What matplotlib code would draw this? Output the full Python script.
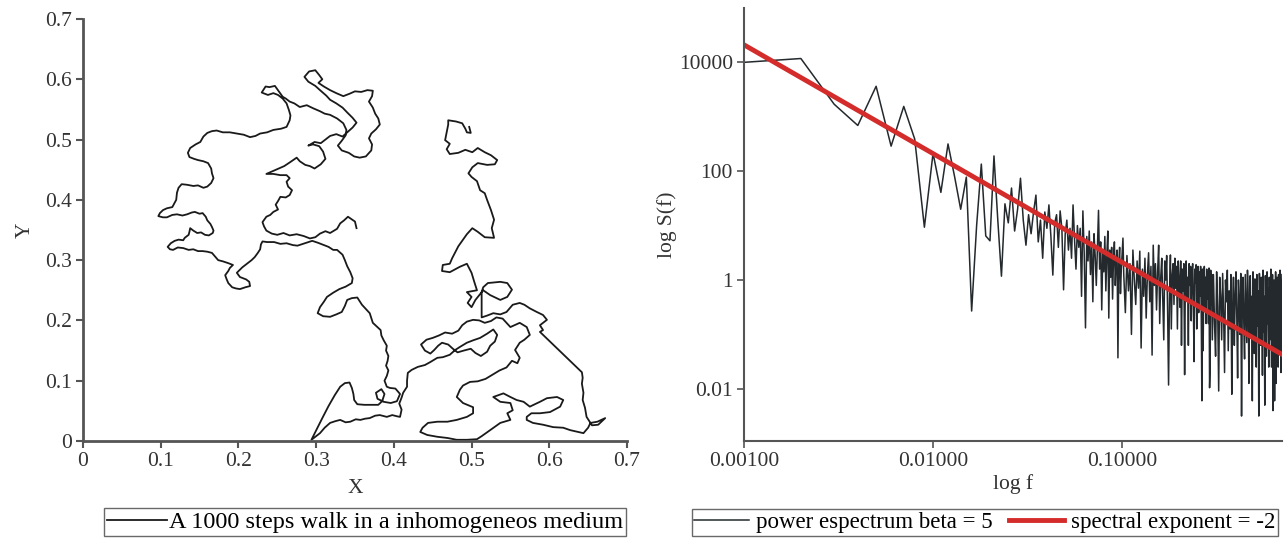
import numpy as np
import matplotlib
matplotlib.use("Agg")
import matplotlib.pyplot as plt

plt.rcParams['font.family'] = ['Liberation Serif', 'DejaVu Serif']

# ---------------- data: random walk (traced) ----------------
walk_pts = [
    (0.352,0.353),(0.350,0.364),(0.341,0.372),(0.336,0.366),(0.331,0.361),(0.327,0.352),(0.318,0.345),(0.312,0.348),
    (0.305,0.344),(0.299,0.338),(0.292,0.336),(0.284,0.340),(0.275,0.343),(0.266,0.341),(0.258,0.345),(0.250,0.342),
    (0.243,0.344),(0.236,0.349),(0.233,0.356),(0.231,0.363),(0.236,0.372),(0.241,0.375),(0.245,0.380),(0.251,0.384),
    (0.248,0.392),(0.251,0.398),(0.254,0.405),(0.261,0.404),(0.266,0.408),(0.269,0.416),(0.264,0.422),(0.262,0.430),
    (0.266,0.436),(0.262,0.441),(0.254,0.441),(0.245,0.443),(0.236,0.443),(0.243,0.447),(0.252,0.452),(0.259,0.456),
    (0.266,0.462),(0.275,0.470),(0.279,0.464),(0.286,0.458),(0.292,0.456),(0.298,0.452),(0.306,0.459),(0.312,0.468),
    (0.309,0.480),(0.304,0.489),(0.296,0.492),(0.290,0.490),(0.298,0.496),(0.306,0.494),(0.312,0.500),(0.318,0.506),
    (0.326,0.509),(0.334,0.505),(0.340,0.512),(0.347,0.520),(0.352,0.528),(0.347,0.536),(0.340,0.545),(0.334,0.553),
    (0.326,0.560),(0.318,0.566),(0.313,0.573),(0.305,0.582),(0.299,0.589),(0.290,0.596),(0.285,0.604),(0.291,0.613),
    (0.299,0.615),(0.304,0.607),(0.308,0.600),(0.303,0.594),(0.310,0.588),(0.318,0.582),(0.326,0.577),(0.335,0.572),
    (0.343,0.576),(0.350,0.580),(0.358,0.579),(0.366,0.582),(0.373,0.581),(0.372,0.572),(0.368,0.563),(0.373,0.553),
    (0.376,0.543),(0.380,0.535),(0.382,0.525),(0.377,0.517),(0.371,0.510),(0.368,0.502),(0.372,0.492),(0.371,0.482),
    (0.364,0.472),(0.356,0.470),(0.349,0.472),(0.342,0.478),(0.333,0.482),(0.328,0.490),(0.333,0.498),(0.338,0.507),
    (0.339,0.516),(0.335,0.527),(0.327,0.535),(0.318,0.541),(0.311,0.543),(0.305,0.547),(0.296,0.552),(0.288,0.557),
    (0.279,0.554),(0.272,0.560),(0.266,0.563),(0.261,0.568),(0.257,0.571),(0.252,0.580),(0.247,0.589),(0.240,0.587),
    (0.235,0.588),(0.230,0.578),(0.238,0.574),(0.245,0.577),(0.251,0.574),(0.257,0.568),(0.262,0.560),(0.265,0.549),
    (0.267,0.540),(0.266,0.532),(0.262,0.521),(0.255,0.518),(0.245,0.516),(0.237,0.512),(0.228,0.510),(0.222,0.506),
    (0.215,0.504),(0.207,0.508),(0.198,0.510),(0.189,0.512),(0.180,0.512),(0.172,0.515),(0.166,0.514),(0.160,0.511),
    (0.155,0.505),(0.151,0.496),(0.145,0.492),(0.138,0.486),(0.135,0.478),(0.137,0.471),(0.143,0.468),(0.148,0.466),
    (0.155,0.464),(0.161,0.461),(0.165,0.452),(0.166,0.444),(0.168,0.436),(0.165,0.428),(0.160,0.422),(0.155,0.420),
    (0.148,0.424),(0.142,0.423),(0.134,0.425),(0.127,0.426),(0.123,0.420),(0.121,0.412),(0.120,0.400),(0.117,0.393),
    (0.115,0.388),(0.108,0.386),(0.103,0.383),(0.099,0.378),(0.097,0.373),(0.103,0.371),(0.108,0.371),(0.115,0.375),
    (0.121,0.376),(0.128,0.374),(0.134,0.376),(0.140,0.379),(0.144,0.380),(0.150,0.377),(0.154,0.378),(0.158,0.372),
    (0.160,0.366),(0.164,0.360),(0.166,0.355),(0.168,0.349),(0.167,0.345),(0.162,0.341),(0.157,0.342),(0.152,0.346),
    (0.147,0.345),(0.142,0.349),(0.138,0.353),(0.137,0.347),(0.136,0.342),(0.131,0.337),(0.129,0.333),(0.123,0.334),
    (0.118,0.332),(0.113,0.328),(0.109,0.322),(0.112,0.318),(0.116,0.317),(0.122,0.321),(0.129,0.320),(0.136,0.317),
    (0.142,0.318),(0.148,0.315),(0.154,0.315),(0.160,0.314),(0.166,0.312),(0.170,0.306),(0.174,0.300),(0.180,0.298),
    (0.187,0.295),(0.193,0.292),(0.189,0.287),(0.187,0.282),(0.183,0.275),(0.185,0.268),(0.187,0.262),(0.192,0.255),
    (0.197,0.253),(0.202,0.252),(0.209,0.255),(0.215,0.257),(0.214,0.264),(0.210,0.268),(0.202,0.272),(0.198,0.279),
    (0.202,0.284),(0.205,0.288),(0.212,0.295),(0.217,0.300),(0.221,0.305),(0.225,0.312),(0.228,0.318),(0.229,0.326),
    (0.231,0.331),(0.237,0.330),(0.246,0.330),(0.254,0.327),(0.262,0.328),(0.270,0.325),(0.276,0.324),(0.283,0.327),
    (0.290,0.330),(0.295,0.332),(0.302,0.329),(0.308,0.326),(0.316,0.322),(0.322,0.317),(0.327,0.317),(0.334,0.309),
    (0.337,0.300),(0.340,0.290),(0.344,0.280),(0.347,0.270),(0.346,0.262),(0.338,0.256),(0.330,0.252),(0.322,0.246),
    (0.314,0.239),(0.310,0.231),(0.305,0.222),(0.302,0.212),(0.309,0.207),(0.318,0.206),(0.326,0.210),(0.333,0.214),
    (0.337,0.224),(0.340,0.234),(0.346,0.237),(0.353,0.238),(0.356,0.232),(0.359,0.226),(0.364,0.219),(0.369,0.212),
    (0.371,0.204),(0.373,0.196),(0.378,0.190),(0.383,0.184),(0.384,0.175),(0.387,0.167),(0.391,0.158),(0.390,0.150),
    (0.393,0.141),(0.392,0.133),(0.390,0.125),(0.393,0.117),(0.391,0.108),(0.388,0.100),(0.391,0.090),(0.395,0.088),
    (0.402,0.087),(0.408,0.078),(0.404,0.066),(0.396,0.063),(0.387,0.065),(0.379,0.070),(0.377,0.080),(0.384,0.086),
    (0.388,0.078),(0.385,0.066),(0.380,0.060),(0.371,0.060),(0.362,0.060),(0.353,0.061),(0.349,0.068),(0.348,0.078),
    (0.346,0.088),(0.343,0.097),(0.337,0.096),(0.331,0.090),(0.324,0.076),(0.316,0.058),(0.308,0.038),(0.301,0.020),
    (0.294,0.002),(0.300,0.008),(0.305,0.013),(0.311,0.022),(0.318,0.030),(0.325,0.033),(0.331,0.035),(0.338,0.031),
    (0.344,0.032),(0.351,0.036),(0.357,0.035),(0.363,0.037),(0.369,0.038),(0.376,0.042),(0.382,0.043),(0.391,0.040),
    (0.398,0.043),(0.404,0.041),(0.408,0.040),(0.410,0.052),(0.407,0.062),(0.410,0.072),(0.412,0.080),(0.417,0.090),
    (0.417,0.100),(0.418,0.113),(0.423,0.118),(0.431,0.123),(0.440,0.126),(0.447,0.131),(0.456,0.138),(0.463,0.139),
    (0.472,0.143),(0.479,0.151),(0.485,0.156),(0.494,0.163),(0.502,0.167),(0.511,0.171),(0.520,0.178),(0.528,0.185),
    (0.533,0.176),(0.530,0.165),(0.524,0.158),(0.520,0.148),(0.512,0.141),(0.505,0.146),(0.499,0.153),(0.490,0.150),
    (0.482,0.147),(0.476,0.153),(0.470,0.160),(0.462,0.163),(0.457,0.158),(0.452,0.151),(0.447,0.145),(0.440,0.150),
    (0.435,0.160),(0.442,0.168),(0.450,0.171),(0.458,0.175),(0.466,0.180),(0.475,0.178),(0.483,0.183),(0.488,0.192),
    (0.494,0.198),(0.502,0.201),(0.510,0.200),(0.517,0.196),(0.525,0.199),(0.532,0.205),(0.540,0.203),(0.545,0.196),
    (0.550,0.189),(0.562,0.196),(0.571,0.189),(0.575,0.176),(0.568,0.168),(0.562,0.163),(0.556,0.151),(0.562,0.138),
    (0.559,0.129),(0.552,0.133),(0.545,0.122),(0.536,0.117),(0.527,0.110),(0.518,0.103),(0.508,0.099),(0.498,0.098),
    (0.489,0.092),(0.485,0.085),(0.481,0.073),(0.489,0.063),(0.502,0.056),(0.502,0.046),(0.494,0.040),(0.481,0.035),
    (0.469,0.032),(0.456,0.032),(0.444,0.030),(0.437,0.022),(0.434,0.015),(0.443,0.010),(0.456,0.007),(0.469,0.005),
    (0.481,0.002),(0.494,0.002),(0.507,0.003),(0.513,0.008),(0.524,0.018),(0.537,0.030),(0.550,0.035),(0.546,0.046),
    (0.553,0.051),(0.550,0.063),(0.537,0.065),(0.528,0.073),(0.541,0.079),(0.550,0.073),(0.558,0.068),(0.567,0.065),
    (0.575,0.057),(0.588,0.065),(0.597,0.071),(0.610,0.073),(0.618,0.068),(0.614,0.057),(0.601,0.048),(0.588,0.046),
    (0.577,0.046),(0.571,0.040),(0.571,0.035),(0.579,0.030),(0.592,0.027),(0.605,0.023),(0.618,0.022),(0.627,0.018),
    (0.637,0.015),(0.644,0.013),(0.650,0.022),(0.653,0.030),(0.662,0.032),(0.672,0.038),(0.663,0.027),(0.655,0.026),
    (0.648,0.040),(0.646,0.055),(0.643,0.068),(0.644,0.080),(0.642,0.095),(0.643,0.105),(0.642,0.114),(0.588,0.181),
    (0.592,0.184),(0.588,0.192),(0.597,0.201),(0.592,0.209),(0.584,0.214),(0.575,0.220),(0.568,0.226),(0.562,0.229),
    (0.553,0.226),(0.545,0.214),(0.537,0.210),(0.528,0.212),(0.520,0.208),(0.513,0.205),(0.513,0.247),(0.515,0.255),
    (0.521,0.262),(0.537,0.264),(0.546,0.262),(0.552,0.251),(0.546,0.239),(0.537,0.234),(0.524,0.242),(0.515,0.250),
    (0.505,0.234),(0.500,0.222),(0.495,0.229),(0.500,0.239),(0.494,0.247),(0.507,0.250),(0.504,0.262),(0.500,0.279),
    (0.494,0.294),(0.485,0.289),(0.472,0.280),(0.462,0.282),(0.463,0.292),(0.472,0.294),(0.475,0.303),(0.479,0.313),
    (0.483,0.323),(0.488,0.332),(0.494,0.343),(0.501,0.353),(0.508,0.347),(0.517,0.338),(0.529,0.337),(0.526,0.353),
    (0.529,0.367),(0.525,0.383),(0.520,0.400),(0.517,0.411),(0.511,0.416),(0.507,0.431),(0.500,0.438),(0.496,0.444),
    (0.501,0.454),(0.508,0.461),(0.520,0.458),(0.530,0.459),(0.533,0.466),(0.525,0.474),(0.517,0.479),(0.508,0.486),
    (0.501,0.479),(0.492,0.483),(0.483,0.478),(0.472,0.476),(0.468,0.484),(0.472,0.493),(0.466,0.499),(0.468,0.512),
    (0.470,0.525),(0.470,0.532),(0.480,0.530),(0.488,0.527),(0.492,0.518),(0.494,0.512),(0.499,0.511),(0.497,0.521),
]
walk_x = [p[0] for p in walk_pts]
walk_y = [p[1] for p in walk_pts]

# ---------------- data: power spectrum (log10 S), f = k/1000 ----------------
spec_log_a = [  # k = 1 .. 101
    4.00, 4.07, 3.23, 2.84, 3.56, 2.46, 3.19, 2.59, 0.97, 2.33,
    1.61, 2.50, 1.90, 1.30, 1.89, -0.57, 1.00, 2.13, 0.81, 0.72,
    2.28, 1.10, 0.07, 1.40, 1.05, 1.69, 0.90, 1.30, 1.87, 1.10,
    0.64, 1.20, 0.85, 1.25, 1.56, 0.70, 1.10, 0.40, 1.25, 0.95,
    1.38, 0.80, 0.09, 1.05, 1.20, 0.60, 1.27, 0.95, -0.18, 0.85,
    1.10, 0.55, 0.95, 0.40, 1.38, 0.75, 0.20, 1.00, 0.60, 0.95,
    -0.30, 1.27, 0.50, -0.88, 0.80, 0.35, 0.90, 0.10, 0.70, -0.40,
    0.85, 0.45, -0.10, 0.60, 1.28, 0.20, 0.70, -0.55, 0.50, 0.15,
    0.80, -0.20, 0.45, 0.90, -0.70, 0.55, 0.05, 0.60, -0.35, 0.40,
    0.70, -0.10, 0.35, 0.55, -1.43, 0.30, 0.60, -0.25, 0.20, 0.50,
    0.77,
]
spec_log_b = [  # k = 102 .. 300, step 2
    0.10, -0.60, 0.45, -0.20, 0.30, -1.00, 0.55, 0.00, -0.45, 0.35,
    -0.15, 0.53, -1.25, 0.20, -0.30, 0.40, -0.70, 0.10, 0.50, -0.40,
    0.25, -1.38, 0.64, -0.10, 0.30, -0.55, 0.15, 0.64, -0.80, 0.05,
    0.40, -0.35, -1.10, 0.35, 0.00, 0.45, -0.60, -1.93, -0.25, 0.46,
    -0.90, 0.10, 0.30, -0.45, 0.40, -0.15, 0.25, -0.90, 0.35, 0.00,
    -0.50, 0.35, -1.20, 0.20, -0.20, 0.30, -1.74, 0.15, 0.35, -0.35,
    0.05, -1.20, 0.30, -0.10, 0.25, -0.75, 0.10, 0.30, -0.40, -1.50,
    0.20, -0.05, 0.28, -0.90, 0.00, 0.25, -0.60, 0.15, -0.30, 0.25,
    -0.60, -2.22, 0.20, -1.30, -0.20, 0.25, -0.50, 0.05, -0.80, 0.20,
    -0.35, 0.15, -0.80, 0.22, -1.98, -1.60, 0.18, -0.45, 0.10, -1.10,
]
spec_log_c = [  # k = 304 .. 700, step 4
    0.10, -0.80, -1.40, 0.15, -0.50, -2.04, 0.05, -0.30, -1.10, 0.12,
    -0.60, -1.70, 0.00, -0.40, 0.18, -1.30, -0.20, -0.90, 0.10, -2.10,
    -0.50, 0.05, -1.20, -0.30, 0.15, -0.70, -1.80, 0.00, -0.45, -1.00,
    0.12, -2.50, -0.35, 0.05, -0.80, -1.45, 0.10, -0.55, -1.15, 0.18,
    -0.25, -1.90, -0.60, 0.08, -1.00, -0.30, -2.22, 0.15, -0.70, -1.35,
    0.02, -0.50, -1.60, 0.10, -0.85, -0.20, -2.50, 0.12, -0.65, -1.20,
    0.05, -0.40, -1.75, 0.18, -0.95, -0.30, -2.30, 0.08, -0.60, -1.40,
    0.15, -0.80, -0.15, -1.60, 0.05, -1.10, -0.45, 0.20, -1.60, -0.70,
    0.10, -2.40, -0.35, 0.00, -2.22, -0.55, 0.15, -1.90, -0.90, 0.05,
    -0.40, -1.60, 0.10, -0.75, -1.30, 0.18, -0.50, -1.70, -0.20, 0.10,
]
spec_k = np.concatenate([np.arange(1, 102), np.arange(102, 301, 2), np.arange(304, 701, 4)])
spec_f = spec_k / 1000.0
spec_S = 10.0 ** np.array(spec_log_a + spec_log_b + spec_log_c)

fit_f = [0.001, 0.7]
fit_S = [2.1e4, 0.043]

walk_label = "A 1000 steps walk in a inhomogeneos medium"
spec_label = "power espectrum beta = 5"
fit_label = "spectral exponent = -2"

# ---------------- figure ----------------
fig = plt.figure(figsize=(12.84, 5.38), dpi=100)
FS = 15.5
spine_col = '#555555'
txt_col = '#333333'

ax1 = fig.add_axes([0.0646, 0.1803, 0.4237, 0.7844])
l1, = ax1.plot(walk_x, walk_y, color='#1a1a1a', lw=1.3)
ax1.set_xlim(0, 0.7)
ax1.set_ylim(0, 0.7)
ticks = [0, 0.1, 0.2, 0.3, 0.4, 0.5, 0.6, 0.7]
tlabels = ['0', '0.1', '0.2', '0.3', '0.4', '0.5', '0.6', '0.7']
ax1.set_xticks(ticks)
ax1.set_xticklabels(tlabels)
ax1.set_yticks(ticks)
ax1.set_yticklabels(tlabels)
for s in ['top', 'right']:
    ax1.spines[s].set_visible(False)
for s in ['left', 'bottom']:
    ax1.spines[s].set_color(spine_col)
    ax1.spines[s].set_linewidth(2)
ax1.tick_params(direction='out', length=5, width=1.5, color=spine_col, labelsize=FS, labelcolor=txt_col, pad=3)
ax1.set_xlabel('X', fontsize=FS, color=txt_col, labelpad=6)
ax1.set_ylabel('Y', fontsize=FS, color=txt_col, labelpad=7)
fig.legend([l1], [walk_label], loc='center', bbox_to_anchor=(0.284, 0.029),
           fontsize=17.5, frameon=True, fancybox=False, edgecolor='#444444',
           handlelength=2.5, handletextpad=0.05, borderpad=0.12, borderaxespad=0)

ax2 = fig.add_axes([0.5794, 0.1803, 0.419, 0.805])
l2, = ax2.plot(spec_f, spec_S, color='#23292d', lw=1.1)
l3, = ax2.plot(fit_f, fit_S, color='#d42b2b', lw=3.5)
ax2.set_xscale('log')
ax2.set_yscale('log')
ax2.set_xlim(0.001, 0.7)
ax2.set_ylim(1.1e-3, 1e5)
ax2.set_xticks([0.001, 0.01, 0.1])
ax2.set_xticklabels(['0.00100', '0.01000', '0.10000'])
ax2.set_yticks([1e-2, 1, 1e2, 1e4])
ax2.set_yticklabels(['0.01', '1', '100', '10000'])
ax2.minorticks_off()
for s in ['top', 'right']:
    ax2.spines[s].set_visible(False)
for s in ['left', 'bottom']:
    ax2.spines[s].set_color(spine_col)
    ax2.spines[s].set_linewidth(1.5)
ax2.tick_params(direction='out', length=5, width=1.2, color=spine_col, labelsize=FS, labelcolor=txt_col, pad=3)
ax2.set_xlabel('log f', fontsize=FS, color=txt_col, labelpad=2)
ax2.set_ylabel('log S(f)', fontsize=FS, color=txt_col, labelpad=1)
fig.legend([l2, l3], [spec_label, fit_label], loc='center', bbox_to_anchor=(0.767, 0.029),
           ncol=2, fontsize=16.5, frameon=True, fancybox=False, edgecolor='#444444',
           handlelength=2.4, handletextpad=0.3, columnspacing=0.7, borderpad=0.12, borderaxespad=0)

fig.savefig('out.png', dpi=100)
